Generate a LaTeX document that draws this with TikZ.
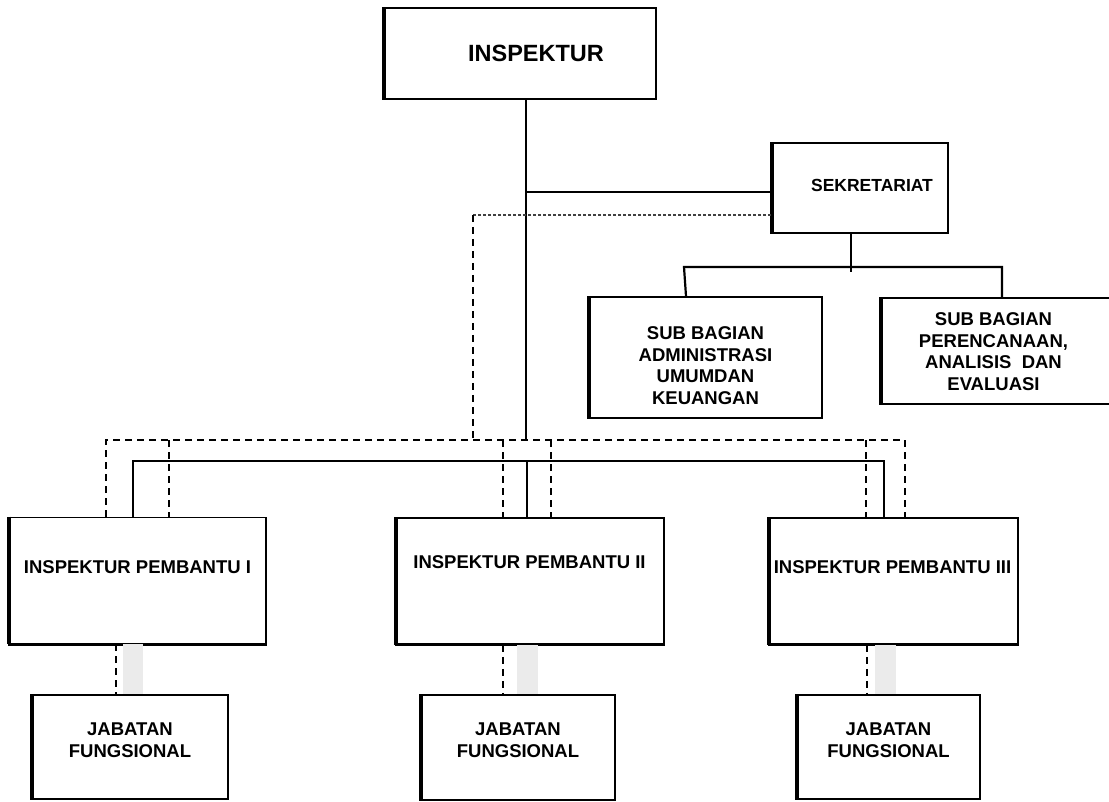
\documentclass[tikz,border=0pt]{standalone}
\usepackage{fontspec}
\setmainfont{Liberation Sans}
\begin{document}
\begin{tikzpicture}[x=1pt,y=-1pt,
  box/.style={draw, line width=1.8pt, fill=white, inner sep=0pt},
  lbl/.style={inner sep=0pt, align=center, font=\fontsize{18.5}{21.7}\selectfont\bfseries},
  big/.style={inner sep=0pt, font=\fontsize{23.5}{26}\selectfont\bfseries},
  solid line/.style={line width=2.2pt},
  dash line/.style={line width=2.4pt, dash pattern=on 7pt off 5pt},
  thin dash/.style={line width=1.2pt, dash pattern=on 3pt off 2pt, black!75},
  shade bar/.style={fill=black!8, draw=none}
]
\useasboundingbox (0,0) rectangle (1109,802);
\fill[white] (0,0) rectangle (1109,802);

\coordinate (mainTop) at (526,99);
\coordinate (mainBot) at (526,440);
\coordinate (sekJ) at (526,192);
\coordinate (dsA) at (473,215);
\coordinate (dsB) at (473,440);
\coordinate (dL) at (106,440);
\coordinate (dR) at (905,440);
\coordinate (sL) at (133,461);
\coordinate (sR) at (884,461);
\coordinate (sM) at (527,461);
\coordinate (subJ) at (851,272);
\coordinate (subL) at (684,267);
\coordinate (subR) at (1002,267);

% boxes
\node[box, minimum width=272, minimum height=91] (insp) at (520,53.5) {};
\node[box, minimum width=176, minimum height=90] (sek) at (860,188) {};
\node[box, minimum width=233, minimum height=121] (sba) at (705.5,357.5) {};
\node[box, minimum width=232, minimum height=106] (sbp) at (997,351) {};
\node[box, minimum width=257, minimum height=126] (ip1) at (137.5,580.5) {};
\node[box, minimum width=268, minimum height=126] (ip2) at (530,581) {};
\node[box, minimum width=249, minimum height=126] (ip3) at (893.5,581) {};
\node[box, minimum width=196, minimum height=104] (jf1) at (130,747) {};
\node[box, minimum width=194, minimum height=105] (jf2) at (518,747.5) {};
\node[box, minimum width=183, minimum height=104] (jf3) at (888.5,747) {};

% thick left edges
\foreach \b in {insp,sek,sba,sbp,ip1,ip2,ip3,jf1,jf2,jf3}{
  \draw[line width=3.2pt] ([xshift=0.8pt]\b.north west) -- ([xshift=0.8pt]\b.south west);
}
\foreach \b in {ip1,ip2,ip3}{
  \draw[line width=3pt] (\b.south west) -- (\b.south east);
}

% solid connectors
\draw[solid line] (mainTop) -- (mainBot);
\draw[solid line] (sekJ) -- (sek.west |- sekJ);
\draw[solid line] (sek.south -| subJ) -- (subJ);
\draw[solid line] (sba.north -| 686,0) -- (subL) -- (subR) -- (sbp.north -| subR);
\draw[solid line] (ip1.north -| sL) -- (sL) -- (sR) -- (ip3.north -| sR);
\draw[solid line] (sM) -- (ip2.north -| sM);

% dashed connectors
\draw[thin dash] (sek.west |- dsA) -- (dsA);
\draw[dash line] (dsA) -- (dsB);
\draw[dash line] (ip1.north -| dL) -- (dL) -- (dR) -- (ip3.north -| dR);
\draw[dash line] (169,440) -- (ip1.north -| 169,0);
\draw[dash line] (503,440) -- (ip2.north -| 503,0);
\draw[dash line] (551,440) -- (ip2.north -| 551,0);
\draw[dash line] (866,440) -- (ip3.north -| 866,0);

% links to jabatan fungsional
\draw[dash line] (ip1.south -| 116,0) -- (jf1.north -| 116,0);
\draw[dash line] (ip2.south -| 503,0) -- (jf2.north -| 503,0);
\draw[dash line] (ip3.south -| 867,0) -- (jf3.north -| 867,0);
\fill[shade bar] (ip1.south -| 123,0) rectangle (jf1.north -| 143,0);
\fill[shade bar] (ip2.south -| 517,0) rectangle (jf2.north -| 538,0);
\fill[shade bar] (ip3.south -| 875,0) rectangle (jf3.north -| 896,0);

% texts
\node[big] (tinsp) at (536,53) {INSPEKTUR};
\node[lbl, font=\fontsize{17.5}{20}\selectfont\bfseries] (tsek) at (872,185) {SEKRETARIAT};
\node[lbl] (tsba) at (705.5,365.5) {SUB BAGIAN\\ADMINISTRASI\\UMUMDAN\\KEUANGAN};
\node[lbl] (tsbp) at (993.5,351.5) {SUB BAGIAN\\PERENCANAAN,\\ANALISIS~ DAN\\EVALUASI};
\node[lbl] (tip1) at (137.5,567) {INSPEKTUR PEMBANTU I};
\node[lbl] (tip2) at (529.5,562) {INSPEKTUR PEMBANTU II};
\node[lbl] (tip3) at (892.5,567) {INSPEKTUR PEMBANTU III};
\node[lbl] (tjf1) at (130,740) {JABATAN\\FUNGSIONAL};
\node[lbl] (tjf2) at (518,740) {JABATAN\\FUNGSIONAL};
\node[lbl] (tjf3) at (888.5,740) {JABATAN\\FUNGSIONAL};
\end{tikzpicture}
\end{document}
